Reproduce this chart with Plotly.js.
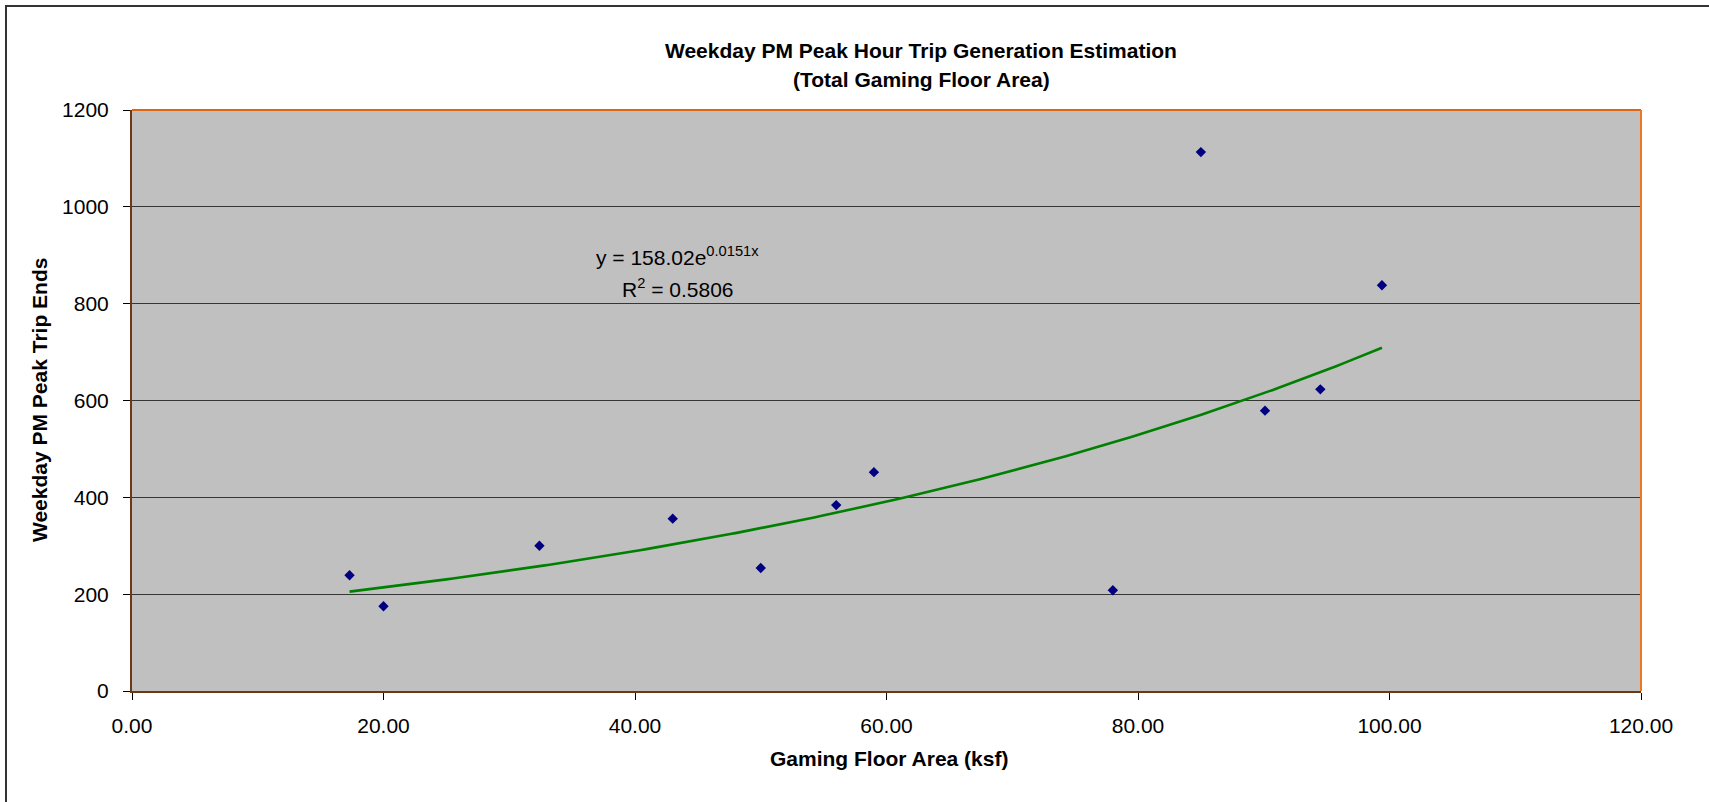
<!DOCTYPE html>
<html>
<head>
<meta charset="utf-8">
<script src="https://cdn.plot.ly/plotly-3.0.1.min.js"></script>
<style>
  html, body { margin: 0; padding: 0; background: #ffffff; }
  #chart { width: 1709px; height: 802px; }
</style>
</head>
<body>
<div id="chart"></div>
<script>
// ---- Data ----
const floorArea = [17.3, 20.0, 32.4, 43.0, 50.0, 56.0, 59.0, 78.0, 85.0, 90.1, 94.5, 99.4];
const tripEnds  = [239, 175, 300, 356, 254, 384, 452, 208, 1113, 579, 623, 838];

// Exponential trendline as printed on the chart
const fitA = 158.02;
const fitB = 0.0151;
const fitR2 = 0.5806;

const xTickVals = [0, 20, 40, 60, 80, 100, 120];
const xTickText = ["0.00", "20.00", "40.00", "60.00", "80.00", "100.00", "120.00"];
const yTickVals = [0, 200, 400, 600, 800, 1000, 1200];

// trendline over the data range
const xMin = Math.min(...floorArea), xMax = Math.max(...floorArea);
const trendX = [], trendY = [];
for (let i = 0; i <= 160; i++) {
  const x = xMin + (xMax - xMin) * i / 160;
  trendX.push(x);
  trendY.push(fitA * Math.exp(fitB * x));
}

// ---- layout helpers (pixel -> paper) ----
const W = 1709, H = 802;
const mL = 132, mR = 68, mT = 110, mB = 111;
const pw = W - mL - mR, ph = H - mT - mB;
const px = v => (v - mL) / pw;
const py = v => (H - mB - v) / ph;

const font = "Liberation Sans, Arial, Helvetica, sans-serif";

const traces = [
  {
    x: trendX, y: trendY, type: "scatter", mode: "lines",
    line: { color: "#008000", width: 2.6 },
    hoverinfo: "skip", showlegend: false
  },
  {
    x: floorArea, y: tripEnds, type: "scatter", mode: "markers",
    marker: { symbol: "diamond", size: 8, color: "#000080", line: { width: 0 } },
    showlegend: false
  }
];

const layout = {
  width: W, height: H,
  margin: { l: mL, r: mR, t: mT, b: mB, pad: 0 },
  paper_bgcolor: "#ffffff",
  plot_bgcolor: "#C0C0C0",
  font: { family: font, color: "#000000", size: 21 },
  showlegend: false,
  xaxis: {
    range: [0, 120], autorange: false,
    tickmode: "array", tickvals: xTickVals, ticktext: xTickText,
    ticks: "outside", ticklen: 7, tickcolor: "#000000", tickwidth: 1,
    ticklabelstandoff: 8,
    showgrid: false, zeroline: false,
    showline: true, linecolor: "#6b3a14", linewidth: 2,
    tickfont: { family: font, size: 21, color: "#000000" }
  },
  yaxis: {
    range: [0, 1200], autorange: false,
    tickmode: "array", tickvals: yTickVals,
    ticks: "outside", ticklen: 7, tickcolor: "#000000", tickwidth: 1,
    ticklabelstandoff: 10,
    showgrid: true, gridcolor: "#363636", gridwidth: 1.2,
    zeroline: false,
    showline: true, linecolor: "#6b3a14", linewidth: 2,
    tickfont: { family: font, size: 21, color: "#000000" }
  },
  shapes: [
    // outer chart border (extends past the view on right and bottom)
    { type: "rect", xref: "paper", yref: "paper",
      x0: px(6), x1: px(1740), y0: py(840), y1: py(6),
      line: { color: "#333333", width: 2 }, fillcolor: "rgba(0,0,0,0)", layer: "below" },
    // plot area border, top and right in orange
    { type: "line", xref: "paper", yref: "paper", x0: 0, x1: 1, y0: 1, y1: 1,
      line: { color: "#DD6614", width: 2 }, layer: "above" },
    { type: "line", xref: "paper", yref: "paper", x0: 1, x1: 1, y0: 0, y1: 1,
      line: { color: "#EE7722", width: 2 }, layer: "above" }
  ],
  annotations: [
    { xref: "paper", yref: "paper", x: px(921), y: py(50), xanchor: "center", yanchor: "middle",
      text: "<b>Weekday PM Peak Hour Trip Generation Estimation</b>", showarrow: false,
      font: { family: font, size: 21, color: "#000000" } },
    { xref: "paper", yref: "paper", x: px(921), y: py(79), xanchor: "center", yanchor: "middle",
      text: "<b>(Total Gaming Floor Area)</b>", showarrow: false,
      font: { family: font, size: 21, color: "#000000" } },
    { xref: "paper", yref: "paper", x: px(889), y: py(758), xanchor: "center", yanchor: "middle",
      text: "<b>Gaming Floor Area (ksf)</b>", showarrow: false,
      font: { family: font, size: 21, color: "#000000" } },
    { xref: "paper", yref: "paper", x: px(39), y: py(400), xanchor: "center", yanchor: "middle",
      text: "<b>Weekday PM Peak Trip Ends</b>", showarrow: false, textangle: -90,
      font: { family: font, size: 21, color: "#000000" } },
    { xref: "paper", yref: "paper", x: px(594), y: py(256), xanchor: "left", yanchor: "middle",
      text: "y = " + fitA.toFixed(2) + "e<sup>" + fitB.toFixed(4) + "x</sup>", showarrow: false,
      font: { family: font, size: 21, color: "#000000" } },
    { xref: "paper", yref: "paper", x: px(620), y: py(288), xanchor: "left", yanchor: "middle",
      text: "R<sup>2</sup> = " + fitR2.toFixed(4), showarrow: false,
      font: { family: font, size: 21, color: "#000000" } }
  ]
};

Plotly.newPlot("chart", traces, layout, { displayModeBar: false, staticPlot: true });
</script>
</body>
</html>
